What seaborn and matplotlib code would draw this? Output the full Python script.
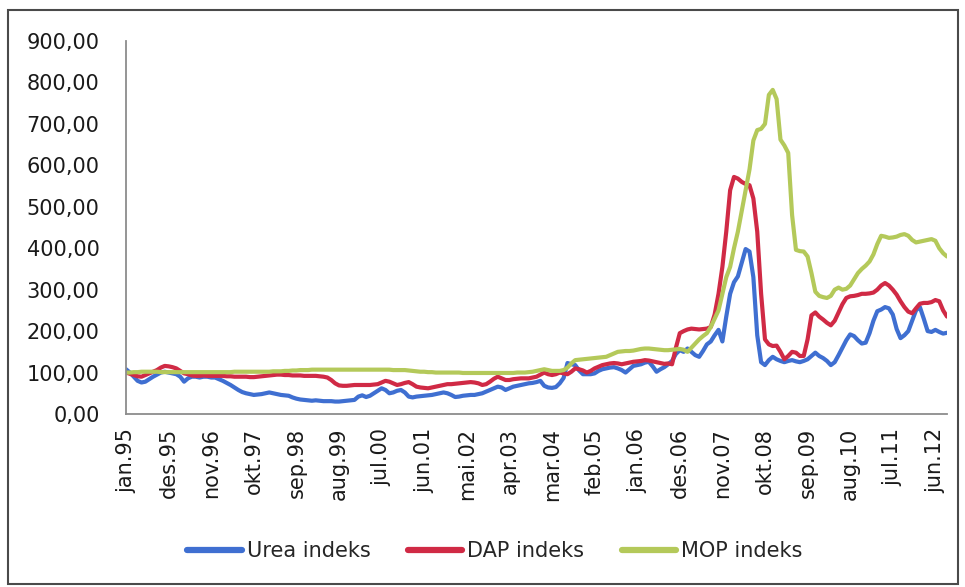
import matplotlib
matplotlib.use("Agg")
import matplotlib.pyplot as plt
from matplotlib.lines import Line2D
from matplotlib.patches import Rectangle
import numpy as np
import pandas as pd
import seaborn as sns

# Monthly price indices (jan 1995 = 100), jan.95 .. sep.12
urea = [
    108, 100, 90, 80, 76, 78, 84, 90, 95, 100, 102, 100,        # 1995
    98, 96, 90, 78, 86, 90, 90, 88, 90, 90, 88, 88,             # 1996
    84, 80, 75, 70, 64, 58, 53, 50, 48, 46, 47, 48,             # 1997
    50, 52, 50, 48, 46, 45, 44, 40, 37, 35, 34, 33,             # 1998
    32, 33, 32, 31, 31, 31, 30, 30, 31, 32, 33, 34,             # 1999
    42, 45, 41, 44, 50, 56, 62, 58, 50, 52, 56, 58,             # 2000
    52, 42, 40, 42, 43, 44, 45, 46, 48, 50, 52, 50,             # 2001
    46, 41, 42, 44, 45, 46, 46, 48, 50, 54, 58, 62,             # 2002
    66, 64, 58, 62, 66, 68, 70, 72, 74, 75, 77, 80,             # 2003
    68, 64, 63, 65, 74, 87, 123, 120, 118, 105, 96, 96,         # 2004
    96, 98, 104, 108, 110, 112, 113, 110, 106, 100, 108, 116,   # 2005
    118, 120, 124, 126, 115, 102, 108, 113, 120, 128, 145, 154, # 2006
    150, 158, 150, 142, 138, 152, 168, 175, 190, 203, 175, 235, # 2007
    290, 318, 332, 365, 398, 392, 330, 190, 125, 118, 130, 138, # 2008
    132, 128, 125, 128, 130, 127, 125, 128, 132, 140, 148, 140, # 2009
    135, 128, 118, 125, 142, 160, 178, 192, 188, 178, 170, 172, # 2010
    195, 225, 248, 252, 258, 255, 240, 205, 183, 190, 200, 225, # 2011
    250, 258, 230, 200, 198, 203, 198, 194, 196,                # 2012
]

dap = [
    100, 97, 94, 91, 90, 94, 98, 102, 106, 112, 116, 115,       # 1995
    113, 110, 104, 98, 96, 93, 92, 92, 93, 92, 92, 92,          # 1996
    92, 92, 91, 91, 90, 90, 90, 90, 89, 89, 90, 91,             # 1997
    92, 93, 94, 95, 95, 94, 94, 93, 93, 93, 92, 92,             # 1998
    92, 92, 91, 90, 88, 82, 74, 69, 68, 68, 69, 70,             # 1999
    70, 70, 70, 70, 71, 72, 76, 80, 78, 74, 70, 72,             # 2000
    75, 77, 72, 66, 64, 63, 62, 64, 66, 68, 70, 72,             # 2001
    72, 73, 74, 75, 76, 77, 76, 74, 70, 72, 78, 85,             # 2002
    90, 86, 82, 82, 84, 85, 86, 86, 86, 88, 90, 95,             # 2003
    100, 96, 94, 96, 100, 98, 96, 102, 110, 108, 105, 100,      # 2004
    104, 110, 114, 118, 120, 122, 123, 122, 120, 122, 124, 126, # 2005
    127, 128, 130, 129, 127, 125, 123, 121, 122, 120, 160, 195, # 2006
    200, 204, 206, 205, 204, 205, 206, 210, 240, 290, 355, 440, # 2007
    540, 572, 568, 560, 555, 552, 520, 440, 290, 180, 168, 164, # 2008
    165, 150, 132, 140, 150, 148, 140, 140, 180, 238, 245, 235, # 2009
    228, 220, 214, 225, 245, 265, 280, 284, 285, 287, 290, 290, # 2010
    291, 293, 300, 310, 316, 310, 300, 288, 272, 258, 247, 243, # 2011
    255, 266, 268, 268, 270, 275, 272, 250, 235,                # 2012
]

mop = [
    100, 100, 101, 101, 102, 102, 102, 102, 102, 101, 101, 101, # 1995
    101, 101, 101, 101, 101, 101, 101, 101, 101, 101, 101, 101, # 1996
    101, 101, 101, 101, 102, 102, 102, 102, 102, 102, 102, 102, # 1997
    102, 102, 103, 103, 103, 104, 104, 105, 105, 106, 106, 106, # 1998
    107, 107, 107, 107, 107, 107, 107, 107, 107, 107, 107, 107, # 1999
    107, 107, 107, 107, 107, 107, 107, 107, 107, 106, 106, 106, # 2000
    106, 105, 104, 103, 102, 102, 101, 101, 100, 100, 100, 100, # 2001
    100, 100, 100, 99, 99, 99, 99, 99, 99, 99, 99, 99,          # 2002
    99, 99, 99, 99, 99, 100, 100, 100, 101, 102, 104, 106,      # 2003
    108, 106, 104, 104, 104, 106, 112, 122, 130, 131, 132, 133, # 2004
    134, 135, 136, 137, 138, 142, 146, 150, 151, 152, 152, 153, # 2005
    155, 157, 158, 158, 157, 156, 155, 154, 154, 155, 156, 157, # 2006
    155, 150, 160, 170, 180, 188, 195, 210, 230, 250, 290, 330, # 2007
    355, 400, 440, 490, 540, 590, 660, 685, 688, 700, 770, 782, # 2008
    760, 662, 648, 630, 480, 396, 393, 392, 380, 340, 295, 285, # 2009
    282, 280, 285, 300, 305, 300, 302, 310, 325, 340, 350, 358, # 2010
    368, 385, 410, 430, 428, 425, 426, 428, 432, 434, 430, 420, # 2011
    414, 416, 418, 420, 422, 418, 400, 388, 380,                # 2012
]

series_names = ["Urea indeks", "DAP indeks", "MOP indeks"]
series_colors = ["#3f6fd1", "#d02a45", "#b4c95a"]

tick_labels = ["jan.95", "des.95", "nov.96", "okt.97", "sep.98", "aug.99",
               "jul.00", "jun.01", "mai.02", "apr.03", "mar.04", "feb.05",
               "jan.06", "des.06", "nov.07", "okt.08", "sep.09", "aug.10",
               "jul.11", "jun.12"]

y_ticks = [0, 100, 200, 300, 400, 500, 600, 700, 800, 900]

months = np.arange(len(urea))
df = pd.concat([
    pd.DataFrame({"month": months, "value": vals, "series": name})
    for name, vals in zip(series_names, [urea, dap, mop])
], ignore_index=True)

sns.set_theme(style="white")
plt.rcParams["font.family"] = ["DejaVu Sans"]

W, H = 965, 587
fig = plt.figure(figsize=(W / 100, H / 100), dpi=100)
fig.patch.set_facecolor("white")

left, right, top, bottom = 126, 947, 41, 414
ax = fig.add_axes([left / W, 1 - bottom / H, (right - left) / W, (bottom - top) / H])

sns.lineplot(data=df, x="month", y="value", hue="series",
             hue_order=series_names, palette=series_colors,
             linewidth=3.0, ax=ax, legend=False)

ax.set_xlim(0, len(urea) - 1)
ax.set_ylim(0, 900)
ax.set_yticks(y_ticks)
ax.set_yticklabels([f"{v:.2f}".replace(".", ",") for v in y_ticks])
ax.set_xticks(np.arange(len(tick_labels)) * 11)
ax.set_xticklabels(tick_labels, rotation=90, va="top", ha="center")
ax.set_xlabel("")
ax.set_ylabel("")

for s in ["top", "right"]:
    ax.spines[s].set_visible(False)
for s in ["left", "bottom"]:
    ax.spines[s].set_color("#8c8c8c")
    ax.spines[s].set_linewidth(1.3)

ax.tick_params(axis="y", length=0, labelsize=15, pad=19, colors="#1a1a1a")
ax.tick_params(axis="x", length=0, labelsize=15, pad=10, colors="#1a1a1a")

handles = [Line2D([0], [0], color=c, lw=4.5, solid_capstyle="round")
           for c in series_colors]
fig.legend(handles, series_names, loc="center",
           bbox_to_anchor=(495 / W, 1 - 551 / H), ncol=3, frameon=False,
           fontsize=15, handlelength=2.6, handletextpad=0.25,
           columnspacing=1.8)

fig.patches.append(Rectangle((8 / W, 3 / H), (958 - 8) / W, (H - 10 - 3) / H,
                             transform=fig.transFigure, fill=False,
                             edgecolor="#4a4a4a", linewidth=1.5))

fig.savefig("out.png", dpi=100, facecolor="white")
